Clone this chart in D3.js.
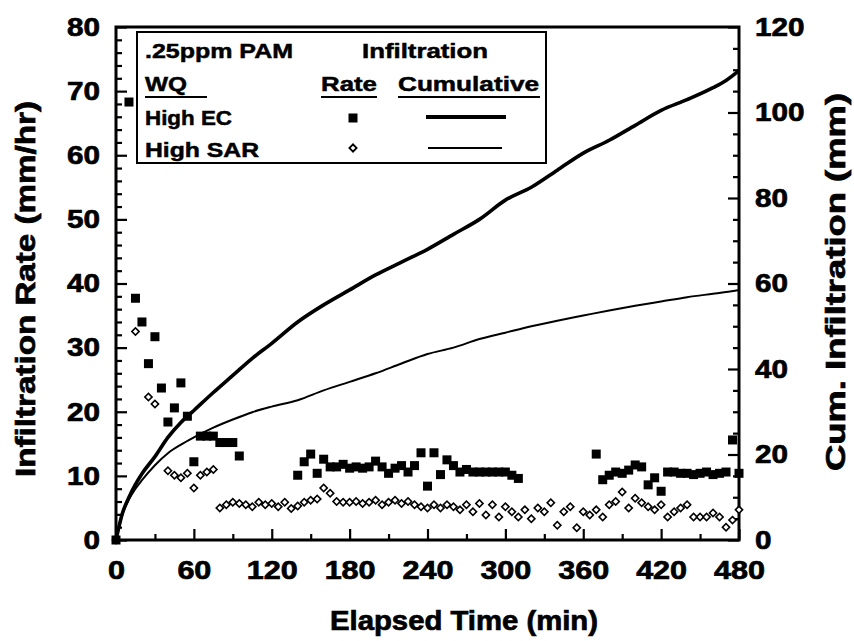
<!DOCTYPE html>
<html><head><meta charset="utf-8">
<script src="https://cdn.jsdelivr.net/npm/d3@7"></script>
<style>
html,body{margin:0;padding:0;background:#fff;}
svg{display:block;font-family:"Liberation Sans",Arial,sans-serif;font-weight:bold;}
</style></head><body>
<svg id="chart" width="854" height="641"></svg>
<script>
// ---- data ----
const xTicks = [0,60,120,180,240,300,360,420,480];
const yLeftTicks = [0,10,20,30,40,50,60,70,80];
const yRightTicks = [0,20,40,60,80,100,120];

const ecTime = [0,10,15,20,25,30,35,40,45,50,55,60,65,70,75,80,85,90,95,
 140,145,150,155,160,165,170,175,180,185,190,195,200,205,210,215,220,225,230,235,240,245,250,255,260,265,270,275,280,285,290,295,300,305,310,
 370,375,380,385,390,395,400,405,410,415,420,425,430,435,440,445,450,455,460,465,470,475,480];
const ecRate = [0,68.3,37.7,34,27.5,31.7,23.7,18.4,20.6,24.5,19.3,12.2,16.2,16.2,16.2,15.2,15.2,15.2,13.1,
 10.1,12.2,13.4,10.4,12.6,11.4,11.4,11.8,11.2,11.4,11.2,11.4,12.3,11.4,10.4,11.2,11.6,10.6,11.6,13.6,8.4,13.6,10.2,12.5,11.6,10.6,11.0,10.6,10.6,10.6,10.6,10.6,10.6,10.1,9.6,
 13.4,9.4,10.1,10.6,10.4,10.9,11.7,11.4,8.6,9.7,7.6,10.6,10.6,10.4,10.4,10.2,10.4,10.6,10.2,10.4,10.6,15.6,10.4];

const sarTime = [0,15,25,30,40,45,50,55,60,65,70,75,
 80,85,90,95,100,105,110,115,120,125,130,135,140,145,150,155,160,165,170,175,180,185,190,195,
 200,205,210,215,220,225,230,235,240,245,250,255,260,265,270,275,280,285,290,295,
 300,305,310,315,320,325,330,335,340,345,350,355,360,365,370,375,380,385,390,395,
 400,405,410,415,420,425,430,435,440,445,450,455,460,465,470,475,480];
const sarRate = [0,32.5,22.3,21.2,10.8,10.1,9.7,10.4,8.1,10.1,10.6,11.0,
 5.0,5.5,5.9,5.7,5.5,5.2,5.9,5.5,5.7,5.2,5.9,4.9,5.3,5.9,6.2,6.4,8.1,7.3,6.0,5.9,5.9,6.0,5.7,5.9,
 6.2,5.5,5.9,6.2,5.7,6.0,5.5,5.2,5.0,5.5,5.0,5.5,5.2,4.7,5.5,4.4,5.7,3.9,5.5,3.6,
 5.2,4.4,3.6,4.7,3.3,5.0,4.4,5.8,2.3,4.4,5.2,1.9,4.4,3.9,4.7,3.6,5.5,6.0,7.5,5.0,
 6.5,5.8,5.2,4.7,5.5,3.6,4.4,5.0,5.5,3.6,3.6,3.6,4.2,3.6,2.0,3.1,4.7];

const cumTime = [0,5,10,15,20,30,40,50,60,75,90,105,120,140,160,180,200,220,240,260,280,300,320,340,360,380,400,420,440,460,470,480];
const ecCum =  [0,6.3,10,13,15.5,19.5,24,27.5,30.3,34.5,38.5,42.5,46,51,55,58.5,62,65,68,71.5,75,79.5,82.5,86.5,90.5,93.5,97,100.5,103,105.8,107.5,109.8];
const sarCum = [0,6,9.5,12,14,17.5,20.3,22.3,24,26.3,28.2,29.9,31.2,32.7,35,37,39,41.3,43.5,45,47,48.5,50,51.3,52.5,53.7,54.8,55.8,56.8,57.6,58.0,58.5];

// ---- layout ----
const svg = d3.select("#chart");
const L = 116, R = 739, T = 27, B = 540;
const x = d3.scaleLinear().domain([0,480]).range([L,R]);
const yL = d3.scaleLinear().domain([0,80]).range([B,T]);
const yR = d3.scaleLinear().domain([0,120]).range([B,T]);

const ec = ecTime.map((t,i)=>({t, v:ecRate[i]}));
const sar = sarTime.map((t,i)=>({t, v:sarRate[i]}));

const xMinor = d3.range(0,481,30).filter(v=>v%60!==0);
const yLMinor = d3.range(0,81,2).filter(v=>v%10!==0);
const yRMinor = d3.range(0,121,5).filter(v=>v%20!==0);

function styleAxis(g){
  g.select(".domain").remove();
  g.selectAll("line").attr("stroke","#000").attr("stroke-width",2.2);
  g.selectAll("text").attr("fill","#000").attr("stroke","#000").attr("stroke-width",0.7)
   .style("font-size","26px").style("font-weight","bold")
   .style("font-family","'Liberation Sans',Arial,sans-serif");
}
svg.append("g").attr("transform",`translate(0,${B})`)
  .call(d3.axisBottom(x).tickValues(xMinor).tickSize(-6).tickFormat("")).call(styleAxis);
const gx = svg.append("g").attr("transform",`translate(0,${B})`)
  .call(d3.axisBottom(x).tickValues(xTicks).tickSize(-11).tickPadding(21)).call(styleAxis);
gx.selectAll("text").each(function(d){ d3.select(this).attr("textLength", String(d).length*17).attr("lengthAdjust","spacingAndGlyphs"); });
svg.append("g").attr("transform",`translate(${L},0)`)
  .call(d3.axisLeft(yL).tickValues(yLMinor).tickSize(-6).tickFormat("")).call(styleAxis);
const gl = svg.append("g").attr("transform",`translate(${L},0)`)
  .call(d3.axisLeft(yL).tickValues(yLeftTicks).tickSize(-11).tickPadding(16)).call(styleAxis);
gl.selectAll("text").each(function(d){ d3.select(this).attr("textLength", String(d).length*16.5).attr("lengthAdjust","spacingAndGlyphs"); });
svg.append("g").attr("transform",`translate(${R},0)`)
  .call(d3.axisRight(yR).tickValues(yRMinor).tickSize(-6).tickFormat("")).call(styleAxis);
const gr = svg.append("g").attr("transform",`translate(${R},0)`)
  .call(d3.axisRight(yR).tickValues(yRightTicks).tickSize(-11).tickPadding(16)).call(styleAxis);
gr.selectAll("text").each(function(d){ d3.select(this).attr("textLength", String(d).length*16.5).attr("lengthAdjust","spacingAndGlyphs"); });

svg.append("rect").attr("x",L).attr("y",T).attr("width",R-L).attr("height",B-T)
  .attr("fill","none").attr("stroke","#000").attr("stroke-width",3);

const diamond = d3.symbol().type(d3.symbolSquare).size(26);
svg.append("g").selectAll("path").data(sar).join("path")
  .attr("d",diamond)
  .attr("transform",d=>`translate(${x(d.t)},${yL(d.v)}) rotate(45)`)
  .attr("fill","#fff").attr("stroke","#000").attr("stroke-width",1.6);

const sq = 9;
svg.append("g").selectAll("rect").data(ec).join("rect")
  .attr("x",d=>x(d.t)-sq/2).attr("y",d=>yL(d.v)-sq/2)
  .attr("width",sq).attr("height",sq).attr("fill","#000");

const lineCum = d3.line().x((d,i)=>x(cumTime[i])).y(d=>yR(d)).curve(d3.curveMonotoneX);
svg.append("path").attr("d",lineCum(ecCum)).attr("fill","none").attr("stroke","#000").attr("stroke-width",3.6);
svg.append("path").attr("d",lineCum(sarCum)).attr("fill","none").attr("stroke","#000").attr("stroke-width",2);

function title(txt, px, py, rot, len, size){
  svg.append("text").attr("transform",`translate(${px},${py}) rotate(${rot})`)
    .attr("text-anchor","middle").attr("dominant-baseline","central")
    .attr("textLength",len).attr("lengthAdjust","spacingAndGlyphs")
    .attr("stroke","#000").attr("stroke-width",0.7)
    .style("font-size",size+"px").style("font-weight","bold").text(txt);
}
title("Infiltration Rate (mm/hr)", 26, 289, -90, 376, 27);
title("Cum. Infiltration (mm)", 836, 282, -90, 378, 27);
svg.append("text").attr("x",464).attr("y",630).attr("text-anchor","middle")
  .attr("textLength",268).attr("lengthAdjust","spacingAndGlyphs")
  .attr("stroke","#000").attr("stroke-width",0.7)
  .style("font-size","27px").style("font-weight","bold").text("Elapsed Time (min)");

const lg = svg.append("g");
lg.append("rect").attr("x",137).attr("y",32).attr("width",409).attr("height",131)
  .attr("fill","#fff").attr("stroke","#000").attr("stroke-width",2);
function ltext(txt, lx, ly, len){
  lg.append("text").attr("x",lx).attr("y",ly).attr("textLength",len).attr("lengthAdjust","spacingAndGlyphs")
    .attr("stroke","#000").attr("stroke-width",0.5)
    .style("font-size","21px").style("font-weight","bold").text(txt);
}
ltext(".25ppm PAM",145,58,148);
ltext("Infiltration",362,58,126);
ltext("WQ",145,91,42);
ltext("Rate",321,91,56);
ltext("Cumulative",398,91,141);
ltext("High EC",145,125,87);
ltext("High SAR",145,157,114);
[[145,207],[321,377],[398,540]].forEach(([a,b])=>{
  lg.append("line").attr("x1",a).attr("x2",b).attr("y1",97).attr("y2",97).attr("stroke","#000").attr("stroke-width",2.2);
});
lg.append("rect").attr("x",353-4.5).attr("y",118-4.5).attr("width",9).attr("height",9).attr("fill","#000");
lg.append("path").attr("d",diamond).attr("transform","translate(353,148) rotate(45)")
  .attr("fill","#fff").attr("stroke","#000").attr("stroke-width",1.8);
lg.append("line").attr("x1",426).attr("x2",506).attr("y1",117).attr("y2",117).attr("stroke","#000").attr("stroke-width",4);
lg.append("line").attr("x1",428).attr("x2",502).attr("y1",148).attr("y2",148).attr("stroke","#000").attr("stroke-width",2);
</script>
</body></html>
